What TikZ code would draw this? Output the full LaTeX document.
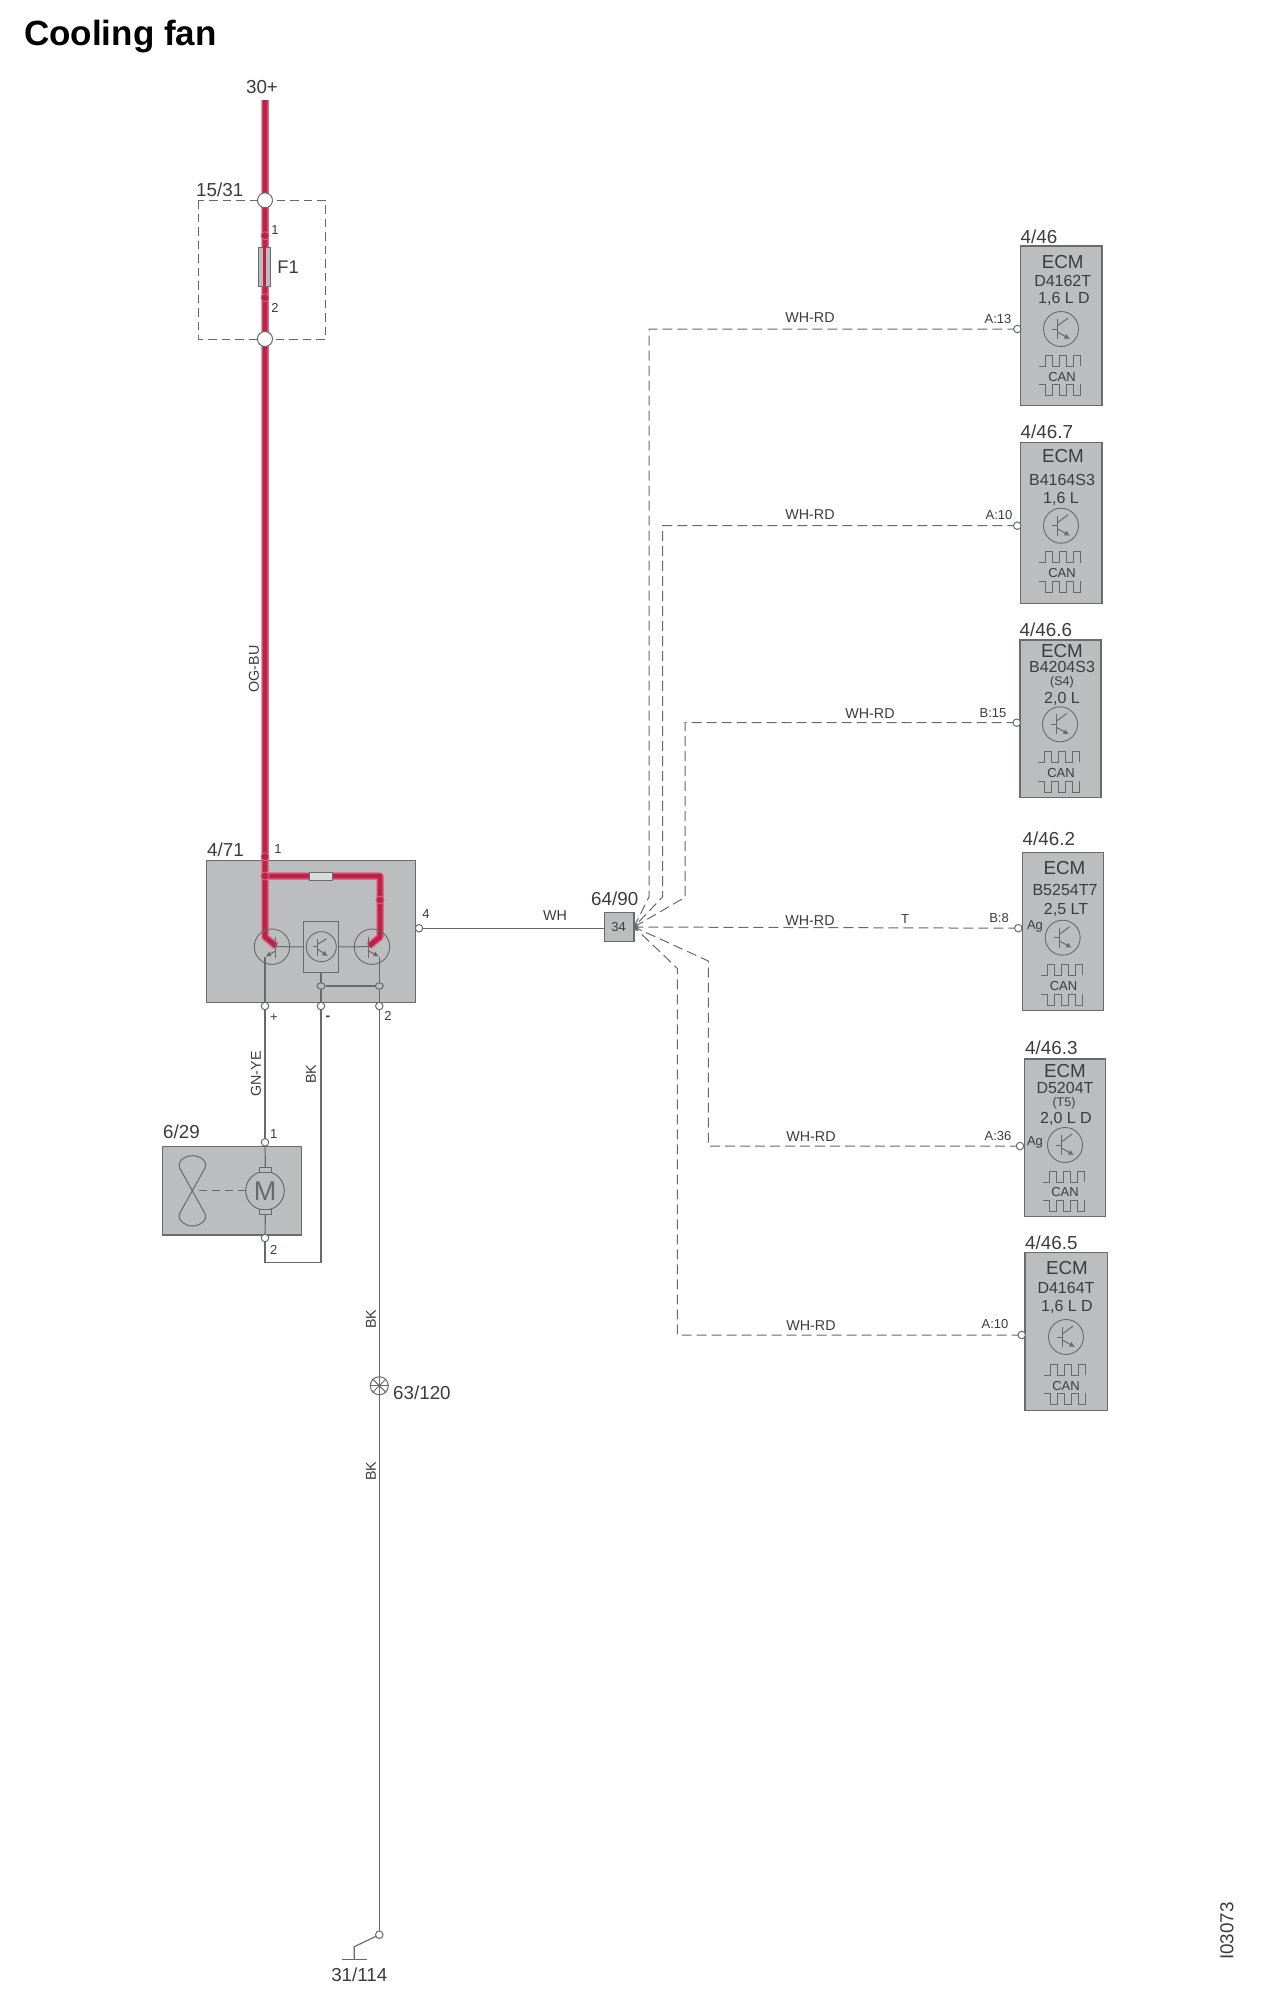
\documentclass[tikz,border=0pt]{standalone}
\usepackage{fontspec}
\setmainfont{Liberation Sans}
\usetikzlibrary{arrows.meta,shapes.geometric}
\definecolor{boxgray}{HTML}{BCBDBF}
\definecolor{edge}{HTML}{6A6B6D}
\definecolor{wirec}{HTML}{68696B}
\definecolor{txt}{HTML}{3C3C3E}
\definecolor{redcore}{HTML}{BE2147}
\definecolor{redhalo}{HTML}{D9677F}
\pgfdeclarelayer{boxes}
\pgfdeclarelayer{wires}
\pgfsetlayers{boxes,wires,main}
\newcommand{\fsz}[1]{\fontsize{#1}{#1}\selectfont}
\tikzset{
  lbl/.style={inner sep=0pt,text=txt,font=\fsz{18.8}},
  mid/.style={inner sep=0pt,text=txt,font=\fsz{16}},
  sml/.style={inner sep=0pt,text=txt,font=\fsz{13}},
  wlb/.style={inner sep=0pt,text=txt,font=\fsz{14.3}},
  wire/.style={draw=wirec,line width=1.15pt},
  dwire/.style={draw=wirec,line width=1pt,dash pattern=on 10pt off 5pt},
  thin wire/.style={draw=wirec,line width=1pt},
  redh/.style={draw=redhalo,line width=7.5pt},
  redc/.style={draw=redcore,line width=4.6pt},
  graybox/.style={draw=edge,fill=boxgray,line width=1.2pt,inner sep=0pt,outer sep=0pt},
  pin/.style={circle,draw=wirec,fill=white,line width=1pt,inner sep=0pt,minimum size=7.5pt},
  redpin/.style={circle,draw=redhalo,fill=redcore,line width=.8pt,inner sep=0pt,minimum size=8pt},
  bigpin/.style={circle,draw=wirec,fill=white,line width=1pt,inner sep=0pt,minimum size=15pt},
  junc/.style={ellipse,draw=wirec,fill=boxgray,line width=1pt,inner sep=0pt,minimum width=8pt,minimum height=6.5pt},
  tcirc/.style={circle,draw=wirec,line width=.9pt,inner sep=0pt},
  tipdark/.style={-{Latex[length=5.5pt,width=5.5pt]}}
}
% rectangle node from corners: name, x0,y0,x1,y1
\newcommand{\gbox}[5]{\begin{pgfonlayer}{boxes}\node[graybox,minimum width=#4pt-#2pt,minimum height=#5pt-#3pt,anchor=north west] (#1) at (#2,#3) {};\end{pgfonlayer}}
% ordinary ECM transistor: name, x, y
\newcommand{\trans}[3]{%
  \node[tcirc,minimum size=35pt] (#1) at (#2,#3) {};
  \begin{scope}[shift={(#2,#3)}]
    \draw[thin wire] (-9,0) -- (-3.7,0);
    \draw[thin wire] (-3.7,-10) -- (-3.7,10);
    \draw[thin wire] (-3.7,-3) -- (7,-11);
    \draw[thin wire,tipdark] (-3.7,3) -- (9,10);
  \end{scope}}
% CAN waves: x, y of upper top, y of lower top
\newcommand{\waves}[3]{%
  \begin{scope}[shift={(#1,0)}]
    \draw[thin wire] (0,#2+11) -- (6,#2+11) -- (6,#2) -- (13,#2) -- (13,#2+11) -- (20,#2+11) -- (20,#2) -- (27,#2) -- (27,#2+11) -- (34,#2+11) -- (34,#2) -- (41.5,#2) -- (41.5,#2+11);
    \draw[thin wire] (0,#3) -- (6,#3) -- (6,#3+11) -- (13,#3+11) -- (13,#3) -- (20,#3) -- (20,#3+11) -- (27,#3+11) -- (27,#3) -- (34,#3) -- (34,#3+11) -- (41.5,#3+11) -- (41.5,#3);
  \end{scope}}
\begin{document}
\begin{tikzpicture}[x=1pt,y=-1pt]
\useasboundingbox (0,0) rectangle (1265,2000);
\begin{pgfonlayer}{boxes}
\fill[white] (0,0) rectangle (1265,2000);
\end{pgfonlayer}

\node[anchor=west,inner sep=0pt,text=black,font=\fsz{35}\bfseries] (title) at (24,37) {Cooling fan};
\node[lbl] (t30) at (262,87) {30+};
\node[lbl,anchor=west] (t1531) at (196,190) {15/31};
\node[sml] (tf1) at (275,230) {1};
\node[sml] (tf2) at (275,308) {2};
\node[mid,font=\fsz{18.3}] (tF1) at (288,267) {F1};
\node[wlb,rotate=90] (togbu) at (254,669) {OG-BU};

% ---- fuse box
\coordinate (top) at (265,100);
\node[bigpin] (fa) at (265,200.3) {};
\node[bigpin] (fb) at (265,339) {};
\node[redpin] (f1) at (265,235.7) {};
\node[redpin] (f2) at (265,297.7) {};
\node[graybox,fill=boxgray,minimum width=12.4pt,minimum height=38.7pt,line width=.9pt] (fuse) at (264.5,266.7) {};
\draw[draw=redcore,line width=2.6pt] (fuse.north) -- (fuse.south);
\begin{pgfonlayer}{wires}
  \draw[draw=wirec,line width=.95pt,dash pattern=on 8.5pt off 5pt] (198.3,200.3) rectangle (325.7,339);
\end{pgfonlayer}

% ---- control module 4/71
\gbox{m471}{206.7}{860.7}{415.7}{1002.3}
\node[lbl,anchor=west] (t471) at (207,850) {4/71};
\node[redpin] (p1) at (265,856.7) {};
\node[sml] (tp1) at (278,849) {1};
\node[redpin] (j1) at (265,876) {};
\node[redpin] (j2) at (380,900) {};
\node[graybox,fill=boxgray!55!white,minimum width=23pt,minimum height=8pt,line width=.9pt] (res) at (320.8,876) {};
\coordinate (corner) at (380,876);
\coordinate (lb1) at (265,937);
\coordinate (lb2) at (276,946);
\coordinate (rb1) at (380,937);
\coordinate (rb2) at (369,946);
\node[tcirc,minimum size=35.4pt] (tl) at (272,946.7) {};
\node[tcirc,minimum size=35.4pt] (tr) at (372,946.7) {};
\node[draw=edge,line width=1pt,inner sep=0pt,minimum width=34.6pt,minimum height=51pt] (ctl) at (321,946.8) {};
\node[tcirc,minimum size=30pt] (tc) at (321.3,946.7) {};
\node[junc] (ja) at (321,986) {};
\node[junc] (jb) at (379.3,986) {};
\node[pin] (pplus) at (265,1006) {};
\node[pin] (pminus) at (321,1006) {};
\node[pin] (p2) at (379.3,1006) {};
\node[pin] (p4) at (419,928.2) {};
\node[sml] (tplus) at (274,1018) {+};
\node[sml,font=\fsz{14}\bfseries] (tminus) at (328,1018) {-};
\node[sml] (tp2) at (388,1016) {2};
\node[sml] (tp4) at (426,914) {4};
% transistor details
\draw[thin wire] (tl.center)++(3.7,-10) -- ++(0,21);
\draw[thin wire,tipdark] (275.7,951) -- (265.5,956.5);
\draw[thin wire] (tr.center)++(-3.3,-10) -- ++(0,21);
\draw[thin wire,tipdark] (368.7,951) -- (379,956.5);
\begin{scope}[shift={(tc.center)}]
  \draw[thin wire] (-3.6,-8) -- (-3.6,9.5);
  \draw[thin wire] (-8,0) -- (-3.6,0);
  \draw[thin wire] (-3.6,-2.5) -- (5.4,-8);
  \draw[thin wire,tipdark] (-3.6,2.5) -- (6.6,9.5);
\end{scope}
\begin{pgfonlayer}{wires}
  \draw[wire] (pplus.center) -- (265,956.5);
  \draw[wire] (p2.center) -- (379.3,956.5);
  \draw[wire] (pminus.center) -- (ctl.south);
  \draw[wire] (ja) -- (jb);
  \draw[thin wire] (276,946.7) -- (ctl.west);
  \draw[thin wire] (ctl.east) -- (369,946.7);
  \draw[redh,line join=round] (top) -- (lb1) -- (lb2);
  \draw[redc,line join=round] (top) -- (lb1) -- (lb2);
  \draw[redh,line join=round] (j1.center) -- (corner) -- (rb1) -- (rb2);
  \draw[redc,line join=round] (j1.center) -- (corner) -- (rb1) -- (rb2);
\end{pgfonlayer}

% ---- fan motor 6/29
\gbox{m629}{162.3}{1146.7}{301.3}{1235}
\node[lbl,anchor=west] (t629) at (163,1132) {6/29};
\node[pin] (m1) at (265,1142.3) {};
\node[pin] (m2) at (265,1238) {};
\node[sml] (tm1) at (273.7,1134) {1};
\node[sml] (tm2) at (273.7,1250) {2};
\node[circle,draw=wirec,line width=1pt,inner sep=0pt,minimum size=38.6pt] (mot) at (265,1190.7) {};
\node[inner sep=0pt,text=wirec,font=\fsz{27}] (tM) at (265,1191.5) {M};
\node[draw=wirec,fill=boxgray,line width=.9pt,inner sep=0pt,minimum width=12pt,minimum height=5pt] (br1) at (265.3,1169.8) {};
\node[draw=wirec,fill=boxgray,line width=.9pt,inner sep=0pt,minimum width=12pt,minimum height=5pt] (br2) at (265.3,1211.7) {};
\coordinate (fan) at (192.3,1190.7);
\draw[thin wire] (fan) -- (179.6,1168)
   .. controls (177,1160) and (186,1155.7) .. (192.3,1155.7)
   .. controls (199,1155.7) and (208,1160) .. (205,1168)
   -- (fan) -- (179.6,1213.5)
   .. controls (177,1221) and (186,1226) .. (192.3,1226)
   .. controls (199,1226) and (208,1221) .. (205,1213.5)
   -- (fan);
\draw[thin wire,dash pattern=on 8pt off 5pt] (199,1190.7) -- (mot.west);
\begin{pgfonlayer}{wires}
  \draw[wire] (pplus.center) -- (m1.center);
  \draw[wire] (m1.center) -- (br1.north);
  \draw[wire] (br2.south) -- (m2.center);
  \draw[wire] (pminus.center) |- (265,1262.3) -- (m2.center);
\end{pgfonlayer}
\node[wlb,rotate=90] (tgn) at (256,1074) {GN-YE};
\node[wlb,rotate=90] (tbk1) at (311,1074) {BK};

% ---- earth line
\node[circle,draw=wirec,line width=1pt,inner sep=0pt,minimum size=18pt] (g63) at (379.3,1385.7) {};
\draw[thin wire] (g63.north west) -- (g63.south east);
\draw[thin wire] (g63.north east) -- (g63.south west);
\draw[thin wire] (g63.west) -- (g63.east);
\node[lbl,anchor=west] (t63) at (393,1393) {63/120};
\node[wlb,rotate=90] (tbk2) at (371,1319) {BK};
\node[wlb,rotate=90] (tbk3) at (371,1471) {BK};
\node[pin] (g1) at (379.3,1934.7) {};
\coordinate (g2) at (354.3,1946.7);
\coordinate (g3) at (354.3,1959.3);
\coordinate (g4) at (342.3,1959.3);
\coordinate (g5) at (367,1959.3);
\begin{pgfonlayer}{wires}
  \draw[wire] (p2.center) -- (g1.center);
  \draw[wire] (g1.center) -- (g2) -- (g3);
  \draw[wire] (g4) -- (g5);
\end{pgfonlayer}
\node[lbl] (t31) at (359.3,1975) {31/114};

% ---- connector 64/90
\gbox{c64}{604.3}{912.7}{634}{941.3}
\node[sml] (t34) at (618.5,927.5) {34};
\node[lbl,anchor=west] (t6490) at (591,899) {64/90};
\node[wlb] (twh) at (555,915.5) {WH};
\begin{pgfonlayer}{wires}
  \draw[wire] (p4.center) -- (c64.west |- p4);
\end{pgfonlayer}

% ---- ECM 1
\gbox{e1}{1020.7}{246}{1102}{405.7}
\node[lbl,anchor=west] (e1id) at (1020.5,236.7) {4/46};
\node[lbl] (e1a) at (1062.7,261.7) {ECM};
\node[mid] (e1b) at (1062.7,280.7) {D4162T};
\node[mid] (e1c) at (1064,299.3) {1,6 L D};
\trans{e1t}{1061}{329}
\waves{1039}{355}{384}
\node[sml] (e1can) at (1062,376.7) {CAN};
\node[pin] (e1p) at (1017.3,329) {};
\node[sml] (e1l) at (998,319) {A:13};
\node[wlb] (e1w) at (810,317.5) {WH-RD};

% ---- ECM 2
\gbox{e2}{1020.7}{442.7}{1102}{603.3}
\node[lbl,anchor=west] (e2id) at (1020.5,432) {4/46.7};
\node[lbl] (e2a) at (1063,456) {ECM};
\node[mid] (e2b) at (1062,480) {B4164S3};
\node[mid] (e2c) at (1061,499.3) {1,6 L};
\trans{e2t}{1061}{525.7}
\waves{1039}{551.7}{581}
\node[sml] (e2can) at (1062,572.7) {CAN};
\node[pin] (e2p) at (1017.3,525.7) {};
\node[sml] (e2l) at (999,515) {A:10};
\node[wlb] (e2w) at (810,515) {WH-RD};

% ---- ECM 3
\gbox{e3}{1020}{640}{1101}{797.3}
\node[lbl,anchor=west] (e3id) at (1019.5,630) {4/46.6};
\node[lbl] (e3a) at (1062,650.7) {ECM};
\node[mid] (e3b) at (1062,666.7) {B4204S3};
\node[inner sep=0pt,text=txt,font=\fsz{12.5}] (e3d) at (1062,682.3) {(S4)};
\node[mid] (e3c) at (1062,699.3) {2,0 L};
\trans{e3t}{1060}{724.3}
\waves{1038}{751}{781}
\node[sml] (e3can) at (1061,772.7) {CAN};
\node[pin] (e3p) at (1016.7,722.7) {};
\node[sml] (e3l) at (993,712.7) {B:15};
\node[wlb] (e3w) at (870,714) {WH-RD};

% ---- ECM 4
\gbox{e4}{1022.7}{852.7}{1103.7}{1010.3}
\node[lbl,anchor=west] (e4id) at (1022.5,839) {4/46.2};
\node[lbl] (e4a) at (1064.5,868) {ECM};
\node[mid] (e4b) at (1065,890) {B5254T7};
\node[mid] (e4c) at (1066,910) {2,5 LT};
\trans{e4t}{1062.7}{937.7}
\waves{1041}{964}{994}
\node[sml] (e4can) at (1063.5,986) {CAN};
\node[sml] (e4ag) at (1035,926) {Ag};
\node[pin] (e4p) at (1018.3,928.2) {};
\node[sml] (e4l) at (999,918) {B:8};
\node[wlb] (e4w) at (810,920.5) {WH-RD};
\node[sml] (e4T) at (905,919) {T};

% ---- ECM 5
\gbox{e5}{1024.3}{1059}{1105.7}{1216.7}
\node[lbl,anchor=west] (e5id) at (1025,1048) {4/46.3};
\node[lbl] (e5a) at (1065,1071) {ECM};
\node[mid] (e5b) at (1065,1088) {D5204T};
\node[inner sep=0pt,text=txt,font=\fsz{12.5}] (e5d) at (1064,1103) {(T5)};
\node[mid] (e5c) at (1066,1119) {2,0 L D};
\trans{e5t}{1065}{1145}
\waves{1043}{1171}{1200}
\node[sml] (e5can) at (1065,1192) {CAN};
\node[sml] (e5ag) at (1035,1142) {Ag};
\node[pin] (e5p) at (1020,1146) {};
\node[sml] (e5l) at (998,1135.7) {A:36};
\node[wlb] (e5w) at (811,1137) {WH-RD};

% ---- ECM 6
\gbox{e6}{1025}{1252.7}{1107.3}{1410.7}
\node[lbl,anchor=west] (e6id) at (1025,1242.7) {4/46.5};
\node[lbl] (e6a) at (1067,1268) {ECM};
\node[mid] (e6b) at (1066,1288) {D4164T};
\node[mid] (e6c) at (1067,1307) {1,6 L D};
\trans{e6t}{1066}{1337}
\waves{1044}{1364}{1393}
\node[sml] (e6can) at (1066,1386) {CAN};
\node[pin] (e6p) at (1021.7,1335) {};
\node[sml] (e6l) at (995,1324) {A:10};
\node[wlb] (e6w) at (811,1326) {WH-RD};

% ---- dashed signal wires
\coordinate (d1) at (649,896.7);
\coordinate (d2) at (662.7,896.7);
\coordinate (d3) at (685,897.3);
\coordinate (d5) at (708.3,961);
\coordinate (d6) at (677.3,968.3);
\begin{pgfonlayer}{wires}
  \tikzset{sig/.style={dwire,-{Straight Barb[length=3.5pt,width=3pt,line width=.6pt]}}}
  \draw[sig] (e1p.center) -| (d1) -- (c64.east);
  \draw[sig] (e2p.center) -| (d2) -- (c64.east);
  \draw[sig] (e3p.center) -| (d3) -- (c64.east);
  \draw[sig] (e4p.center) -- (c64.east);
  \draw[sig] (e5p.center) -| (d5) -- (c64.east);
  \draw[sig] (e6p.center) -| (d6) -- (c64.east);
\end{pgfonlayer}

\node[lbl,rotate=90] (tref) at (1227,1931) {I03073};
\end{tikzpicture}
\end{document}
